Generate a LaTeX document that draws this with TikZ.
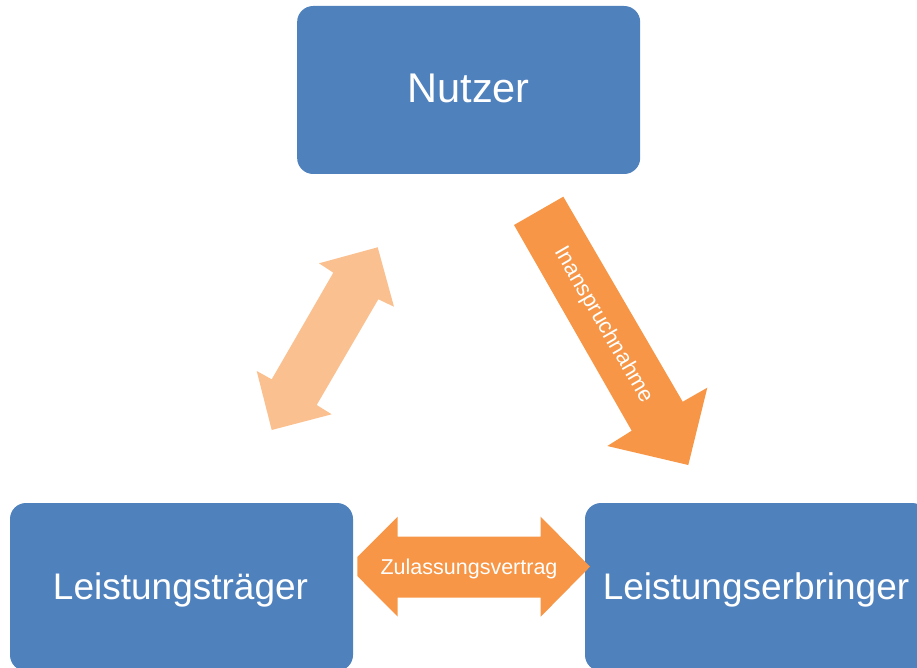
\documentclass[tikz,border=0pt]{standalone}
\usepackage{fontspec}
\setmainfont{Liberation Sans}
\definecolor{boxblue}{HTML}{4F81BD}
\definecolor{arrorange}{HTML}{F79646}
\definecolor{arrlight}{HTML}{FAC090}
\begin{document}
\begin{tikzpicture}[x=1pt,y=-1pt,
  box/.style={fill=boxblue, draw=none, rounded corners=16pt, minimum width=343pt, minimum height=168pt, inner sep=0pt},
  lbl/.style={text=white, inner sep=0pt, anchor=base},
  darkarrow/.style={fill=arrorange, draw=none},
  lightarrow/.style={fill=arrlight, draw=none}]
\useasboundingbox (0,0) rectangle (917,668);
\clip (0,0) rectangle (917,668);
% boxes
\node[box] (nutzer) at (468.65,90) {};
\node[box] (traeger) at (181.5,587) {};
\node[box] (erbringer) at (756.5,587) {};
\node[lbl, font=\fontsize{41.5}{48}\selectfont] (nutzerT) at (468.65,102.7) {Nutzer};
\node[lbl, font=\fontsize{37}{44}\selectfont] (traegerT) at (180.5,599.5) {Leistungsträger};
\node[lbl, font=\fontsize{37}{44}\selectfont] (erbringerT) at (756,599.5) {Leistungserbringer};
% light double arrow (Nutzer <-> Leistungstraeger)
\coordinate (la1) at (377.7,247.3);
\coordinate (la2) at (394,306.7);
\coordinate (la3) at (378.3,299.3);
\coordinate (la4) at (316.7,405);
\coordinate (la5) at (331.7,414.3);
\coordinate (la6) at (271.7,430);
\coordinate (la7) at (256.7,371);
\coordinate (la8) at (271.7,379.3);
\coordinate (la9) at (333.3,272.7);
\coordinate (la10) at (319,263.3);
\fill[lightarrow] (la1) -- (la2) -- (la3) -- (la4) -- (la5) -- (la6) -- (la7) -- (la8) -- (la9) -- (la10) -- cycle;
% Inanspruchnahme arrow
\coordinate (ia1) at (514,225);
\coordinate (ia2) at (563.3,196.7);
\coordinate (ia3) at (682.7,401.7);
\coordinate (ia4) at (707.3,387.7);
\coordinate (ia5) at (688.3,465);
\coordinate (ia6) at (607.3,446);
\coordinate (ia7) at (631.7,430.7);
\fill[darkarrow] (ia1) -- (ia2) -- (ia3) -- (ia4) -- (ia5) -- (ia6) -- (ia7) -- cycle;
\node[text=white, inner sep=0pt, rotate=-60, font=\fontsize{22}{26}\selectfont] (inansp) at (603.5,325) {Inanspruchnahme};
% Zulassungsvertrag double arrow
\coordinate (za1) at (397.7,516.7);
\coordinate (za2) at (397.7,536.7);
\coordinate (za3) at (540.7,536.7);
\coordinate (za4) at (540.7,516.7);
\coordinate (za5) at (590,566.7);
\coordinate (za6) at (540.7,616.7);
\coordinate (za7) at (540.7,597.7);
\coordinate (za8) at (397.7,597.7);
\coordinate (za9) at (397.7,616.7);
\coordinate (za10) at (357.3,576);
\coordinate (za11) at (357.3,557);
\fill[darkarrow] (za1) -- (za2) -- (za3) -- (za4) -- (za5) -- (za6) -- (za7) -- (za8) -- (za9) -- (za10) -- (za11) -- cycle;
\node[lbl, font=\fontsize{21.5}{26}\selectfont] (zulT) at (469,574) {Zulassungsvertrag};
\end{tikzpicture}
\end{document}
